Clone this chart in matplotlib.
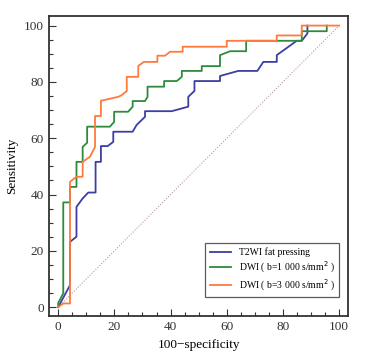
import numpy as np
import matplotlib.pyplot as plt
from matplotlib.ticker import MultipleLocator

plt.rcParams['font.family'] = ['Liberation Serif', 'DejaVu Serif']

# T2WI fat pressing
t2_x = [0, 4.2, 4.2, 6.5, 6.5, 8.7, 10.7, 13.3, 13.3, 15.2, 15.2, 17.6, 19.6, 19.6, 26.5,
        27.9, 30.9, 30.9, 40.4, 46.3, 46.3, 48.5, 48.5, 57.6, 57.6, 64.1, 70.9, 73.0, 77.8,
        77.8, 84.9, 86.7, 88.7, 88.7]
t2_y = [0, 7.8, 23.2, 25.0, 35.6, 38.6, 40.7, 40.7, 51.6, 51.6, 57.2, 57.2, 58.7, 62.3, 62.3,
        64.7, 67.6, 69.6, 69.6, 71.2, 74.7, 76.8, 80.3, 80.3, 82.1, 83.9, 83.9, 87.1, 87.1,
        89.5, 94.6, 94.6, 97.2, 100]

# DWI b=1000
d1_x = [0, 0, 1.8, 1.8, 4.2, 4.2, 6.5, 6.5, 8.7, 8.7, 10.3, 10.3, 18.4, 19.9, 19.9, 24.9,
        26.5, 26.5, 30.9, 31.8, 31.8, 37.7, 37.7, 42.2, 44.0, 44.0, 51.1, 51.1, 57.6, 57.6,
        61.2, 66.9, 66.9, 86.7, 86.7, 95.6, 95.6]
d1_y = [0, 1.5, 4.9, 37.2, 37.2, 42.7, 42.7, 51.6, 51.6, 56.9, 58.4, 64.1, 64.1, 65.8, 69.4,
        69.4, 71.2, 73.2, 73.2, 74.7, 78.3, 78.3, 80.3, 80.3, 81.8, 83.9, 83.9, 85.6, 85.6,
        89.5, 90.9, 90.9, 94.6, 94.6, 98.0, 98.0, 100]

# DWI b=3000
d3_x = [0, 1.8, 4.2, 4.2, 6.5, 8.7, 8.7, 11.3, 13.1, 13.1, 15.2, 15.2, 21.4, 22.6, 24.1,
        24.4, 24.4, 28.5, 28.5, 30.5, 35.3, 35.3, 38.0, 39.8, 44.3, 44.3, 60.0, 60.0, 77.8,
        77.8, 86.7, 86.7, 100]
d3_y = [0, 1.3, 1.3, 44.5, 46.3, 46.3, 51.6, 53.4, 56.9, 67.9, 67.9, 73.3, 74.7, 75.3, 76.5,
        76.7, 81.8, 81.8, 85.7, 87.1, 87.1, 89.3, 89.3, 90.7, 90.7, 92.5, 92.5, 94.6, 94.6,
        96.5, 96.5, 100, 100]

labels = ["T2WI fat pressing", "DWI ( b=1 000 s/mm$^2$ )", "DWI ( b=3 000 s/mm$^2$ )"]
colors = ["#3c3ea3", "#2f8a3c", "#ff7a3c"]

fig, ax = plt.subplots(figsize=(3.68, 3.56), dpi=100)
fig.subplots_adjust(left=0.133, right=0.946, top=0.955, bottom=0.112)

ax.plot([0, 100], [0, 100], linestyle=(0, (1, 1.5)), color="#b89a9a", linewidth=0.8)
ax.plot(t2_x, t2_y, color=colors[0], linewidth=1.3, label=labels[0])
ax.plot(d1_x, d1_y, color=colors[1], linewidth=1.3, label=labels[1])
ax.plot(d3_x, d3_y, color=colors[2], linewidth=1.3, label=labels[2])

ax.set_xlim(-3.3, 103.2)
ax.set_ylim(-3.2, 103.4)
ax.xaxis.set_major_locator(MultipleLocator(20))
ax.xaxis.set_minor_locator(MultipleLocator(5))
ax.yaxis.set_major_locator(MultipleLocator(20))
ax.yaxis.set_minor_locator(MultipleLocator(5))
ax.tick_params(which='both', direction='in', top=False, right=False, labelsize=9.5, width=0.8,
               colors='#333333')
ax.tick_params(which='major', length=5)
ax.tick_params(which='minor', length=3)
for s in ax.spines.values():
    s.set_linewidth(1.3)
    s.set_color('#333333')

ax.set_xlabel("100\u2212specificity", fontsize=9.5, labelpad=4)
ax.set_ylabel("Sensitivity", fontsize=9.5, labelpad=4)

leg = ax.legend(loc='lower right', bbox_to_anchor=(0.97, 0.063), fontsize=7, frameon=True,
                fancybox=False, edgecolor='#333333', borderaxespad=0, handlelength=2.2,
                labelspacing=0.25, borderpad=0.45)
leg.get_frame().set_linewidth(0.9)

fig.savefig("out.png", dpi=100)
